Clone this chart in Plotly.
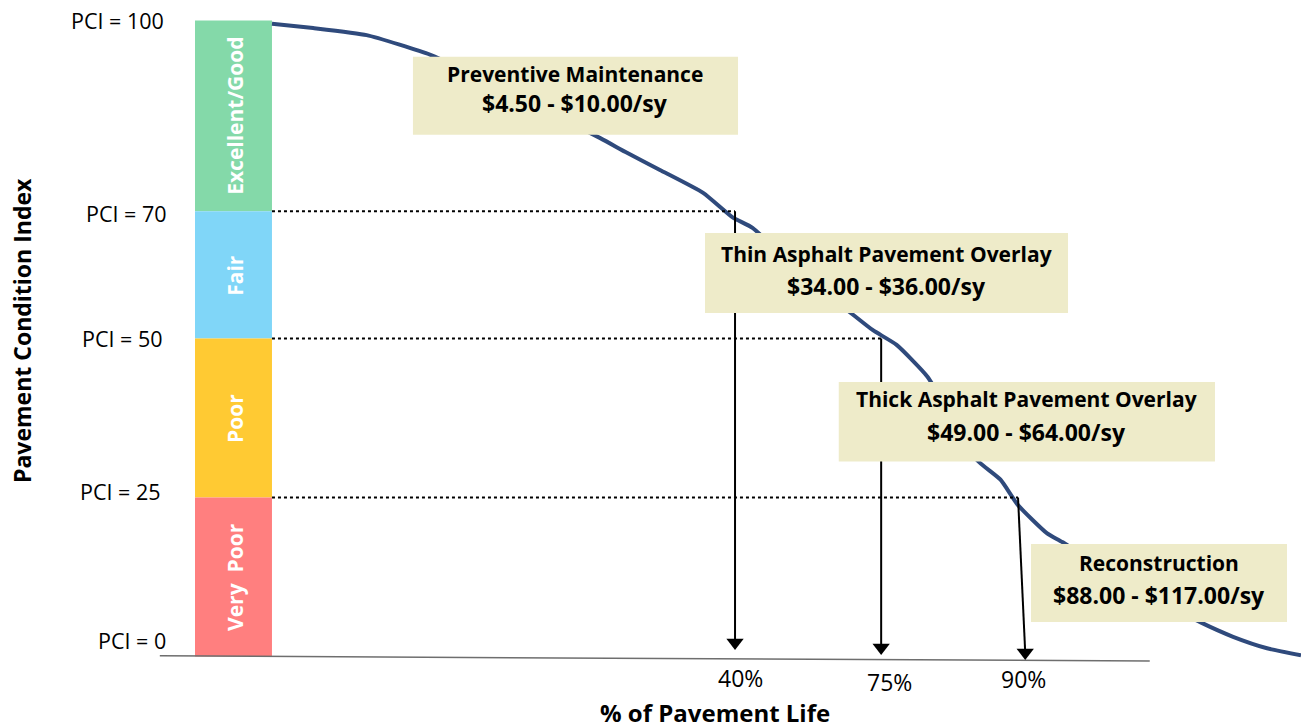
import plotly.graph_objects as go

# ---------------- data ----------------
# deterioration curve: horizontal position (life scale units) vs PCI
life = [0.0, 4.0, 9.2, 12.4, 15.4, 23.6, 31.9, 34.5, 37.7, 41.9, 44.8, 46.7,
        51.8, 56.5, 58.4, 60.7, 63.7, 66.1, 68.5, 70.8, 72.5, 75.3, 76.8,
        83.4, 90.2, 93.4, 96.7, 100.0]
pci = [99.5, 98.8, 97.7, 96.2, 94.6, 88.3, 81.5, 79.2, 76.5, 72.9, 69.0, 67.4,
       59.7, 53.7, 51.3, 49.0, 44.0, 37.5, 30.9, 27.8, 23.8, 19.4, 18.0,
       11.2, 5.4, 3.1, 1.3, 0.2]

band_names = ["Excellent/Good", "Fair", "Poor", "Very  Poor"]
band_top = [100, 70, 50, 25]
band_bottom = [70, 50, 25, 0]
band_colors = ["#84D9A9", "#80D6F8", "#FFCA33", "#FF7F7F"]

pci_labels = ["PCI = 100", "PCI = 70", "PCI = 50", "PCI = 25", "PCI = 0"]
pci_levels = [100, 70, 50, 25, 0]

thresholds = [70, 50, 25]
cross_life = [45.0, 59.2, 72.5]          # where curve crosses thresholds
life_labels = ["40%", "75%", "90%"]

treatments = ["Preventive Maintenance", "Thin Asphalt Pavement Overlay",
              "Thick Asphalt Pavement Overlay", "Reconstruction"]
costs = ["$4.50 - $10.00/sy", "$34.00 - $36.00/sy",
         "$49.00 - $64.00/sy", "$88.00 - $117.00/sy"]

# ---------------- figure ----------------
FONT = "Open Sans"
fig = go.Figure()

fig.add_trace(go.Scatter(x=life, y=pci, mode="lines",
                         line=dict(color="#2F4A7C", width=4, shape="spline", smoothing=0.5),
                         hoverinfo="skip", showlegend=False))

shapes = []
annotations = []

# condition bands
for name, t, b, c in zip(band_names, band_top, band_bottom, band_colors):
    shapes.append(dict(type="rect", xref="x", yref="y", x0=-7.48, x1=0, y0=b, y1=t,
                       fillcolor=c, line=dict(width=0), layer="below"))
    annotations.append(dict(x=-3.6, y=(t + b) / 2, xref="x", yref="y", text=f"<b>{name}</b>",
                            showarrow=False, textangle=-90, xanchor="center", yanchor="middle",
                            font=dict(family=FONT, size=21, color="white")))

# x axis line
shapes.append(dict(type="line", xref="x", yref="y", x0=-10.9, x1=85.3, y0=0.1, y1=-0.7,
                   line=dict(color="#6E6E6E", width=1.5), layer="below"))

# dotted threshold lines
for th, cx in zip(thresholds, cross_life):
    shapes.append(dict(type="line", xref="x", yref="y", x0=0, x1=cx, y0=th, y1=th,
                       line=dict(color="black", width=2, dash="dot"), layer="above"))

# arrows: shafts (shapes, drawn before boxes so boxes cover them) + heads (markers)
head_pci = [2.2, 1.42, 0.63]
head_x = [45.0, 59.2, 73.2]
for th, cx, hx, hp in zip(thresholds, cross_life, head_x, head_pci):
    shapes.append(dict(type="line", xref="x", yref="y", x0=cx, x1=hx, y0=th, y1=hp,
                       line=dict(color="black", width=2), layer="above"))
fig.add_trace(go.Scatter(x=head_x, y=head_pci, mode="markers",
                         marker=dict(symbol="triangle-down", size=15, color="black",
                                     line=dict(width=0)),
                         hoverinfo="skip", showlegend=False))

# treatment boxes (shapes above the curve and arrow shafts)
box_x0 = [13.70, 42.08, 55.08, 73.76]
box_x1 = [45.29, 77.36, 91.64, 98.64]
box_y0 = [82.02, 54.00, 30.66, 5.42]
box_y1 = [94.28, 66.57, 43.16, 17.69]
for x0, x1, y0, y1 in zip(box_x0, box_x1, box_y0, box_y1):
    shapes.append(dict(type="rect", xref="x", yref="y", x0=x0, x1=x1, y0=y0, y1=y1,
                       fillcolor="#EEEBC9", line=dict(width=0), layer="above"))

line1_y = [91.51, 63.29, 40.41, 14.70]
line2_y = [87.03, 58.25, 35.30, 9.75]
for tr, co, x0, x1, y1t, y2t in zip(treatments, costs, box_x0, box_x1, line1_y, line2_y):
    xc = (x0 + x1) / 2
    annotations.append(dict(x=xc, y=y1t, xref="x", yref="y", text=f"<b>{tr}</b>",
                            showarrow=False, xanchor="center", yanchor="middle",
                            font=dict(family=FONT, size=21, color="black")))
    annotations.append(dict(x=xc, y=y2t, xref="x", yref="y", text=f"<b>{co}</b>",
                            showarrow=False, xanchor="center", yanchor="middle",
                            font=dict(family=FONT, size=23, color="black")))

# PCI labels
pci_shift = [0, -2, 0, 6, 16]
pci_xpos = [-10.3, -10.0, -10.4, -10.6, -10.1]
for lab, lv, ys, xp in zip(pci_labels, pci_levels, pci_shift, pci_xpos):
    annotations.append(dict(x=xp, y=lv, xref="x", yref="y", text=lab, showarrow=False,
                            xanchor="right", yanchor="middle", yshift=ys,
                            font=dict(family=FONT, size=21.5, color="black")))

# tick labels
tick_x = [45.5, 60.0, 73.0]
tick_y = [-3.4, -4.0, -3.5]
for lab, xx, yy in zip(life_labels, tick_x, tick_y):
    annotations.append(dict(x=xx, y=yy, xref="x", yref="y", text=lab, showarrow=False,
                            xanchor="center", yanchor="middle",
                            font=dict(family=FONT, size=23, color="black")))

W, H = 1301, 728
# axis titles (positions in figure pixels -> paper fraction)
annotations.append(dict(x=22 / W, y=1 - 331 / H, xref="paper", yref="paper",
                        text="<b>Pavement Condition Index</b>", showarrow=False, textangle=-90,
                        xanchor="center", yanchor="middle",
                        font=dict(family=FONT, size=23, color="black")))
annotations.append(dict(x=715 / W, y=1 - 712 / H, xref="paper", yref="paper",
                        text="<b>% of Pavement Life</b>", showarrow=False,
                        xanchor="center", yanchor="middle",
                        font=dict(family=FONT, size=24, color="black")))

fig.update_layout(
    width=W, height=H,
    margin=dict(l=0, r=0, t=0, b=0),
    paper_bgcolor="white", plot_bgcolor="white",
    xaxis=dict(range=[-26.43, 100], visible=False, fixedrange=True),
    yaxis=dict(range=[-11.24, 103.22], visible=False, fixedrange=True),
    shapes=shapes, annotations=annotations, showlegend=False,
)

fig.write_html("out.html")
